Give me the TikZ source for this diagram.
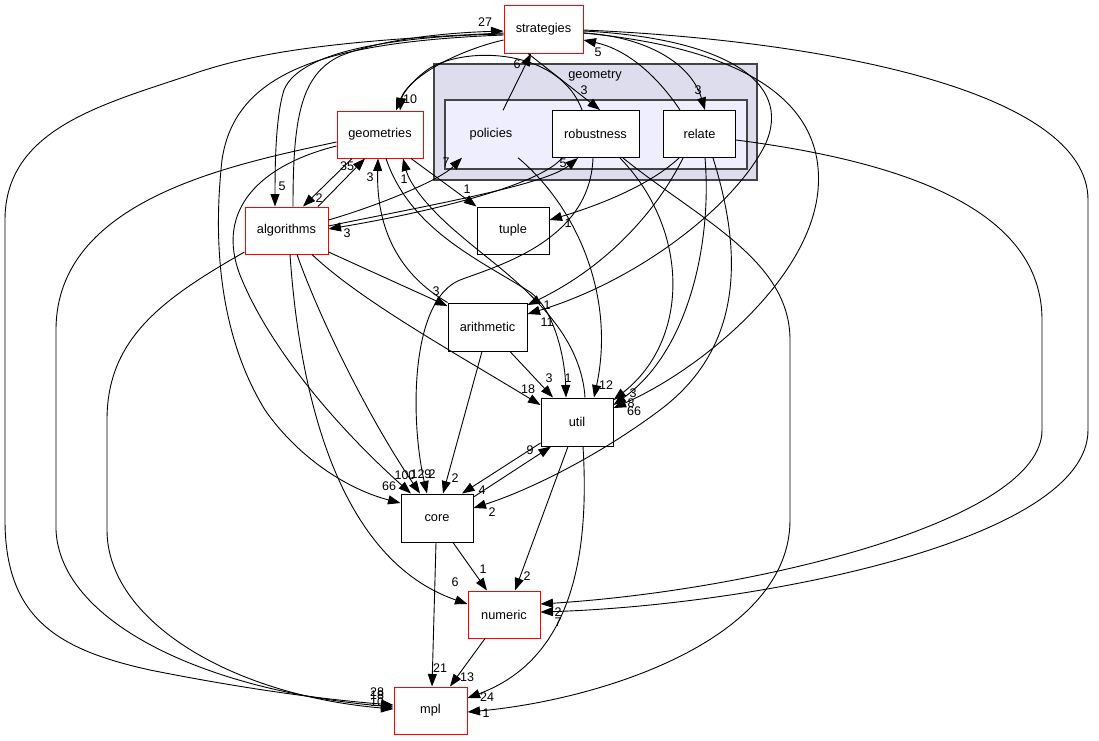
\documentclass[tikz,border=0pt]{standalone}
\usepackage{fontspec}
\setmainfont{Liberation Sans}
\usetikzlibrary{arrows.meta}
\definecolor{clout}{RGB}{221,221,238}
\definecolor{clin}{RGB}{238,238,255}
\definecolor{clborder}{RGB}{68,68,68}
\begin{document}
\begin{tikzpicture}[x=1pt,y=-1pt,
  txt/.style={font=\fontsize{12.8}{15}\selectfont},
  bbox/.style={txt, draw=black, fill=white, line width=1.0pt, inner sep=0pt},
  rbox/.style={bbox, draw=red},
  wbox/.style={txt, inner sep=0pt},
  cluster/.style={draw=clborder, line width=1.4pt},
  edge/.style={line width=0.9pt, -{Triangle[length=12.5pt,width=9pt]}},
  lbl/.style={font=\fontsize{12.5}{14}\selectfont, inner sep=0pt}]
\useasboundingbox (0,0) rectangle (1099,740);
% clusters
\draw[cluster, fill=clout] (434,64) rectangle (757,180);
\node[txt, inner sep=0pt] (geomlbl) at (595,76) {geometry};
\draw[cluster, fill=clin] (445,100) rectangle (747,169);
% nodes
\node[rbox, minimum width=79, minimum height=48] (str) at (543.5,29) {strategies};
\node[wbox, minimum width=92, minimum height=47] (pol) at (491,134) {policies};
\node[bbox, minimum width=87, minimum height=47] (rob) at (595.5,134) {robustness};
\node[bbox, minimum width=72, minimum height=47] (rel) at (699.5,134) {relate};
\node[rbox, minimum width=86, minimum height=47] (geos) at (380,134.5) {geometries};
\node[rbox, minimum width=83, minimum height=47] (alg) at (286.5,230.5) {algorithms};
\node[bbox, minimum width=72, minimum height=47] (tup) at (513,230.5) {tuple};
\node[bbox, minimum width=79, minimum height=48] (ari) at (487.5,327) {arithmetic};
\node[bbox, minimum width=72, minimum height=48] (util) at (577,422) {util};
\node[bbox, minimum width=72, minimum height=48] (core) at (437,518) {core};
\node[rbox, minimum width=72, minimum height=47] (num) at (504,614.5) {numeric};
\node[rbox, minimum width=73, minimum height=47] (mpl) at (430.5,710.5) {mpl};
% edges
\draw[edge] (alg.north -| 293,0) .. controls (293,120) and (300,75) .. (340,56) .. controls (380,40) and (440,33) .. (str.west |- 0,31);
\draw[edge] (str.west |- 0,34) .. controls (400,36) and (300,50) .. (284,90) .. controls (276,115) and (275,160) .. (alg.north -| 275,0);
\draw[edge] (str.west |- 0,35) .. controls (330,42) and (235,70) .. (222,160) .. controls (212,250) and (222,340) .. (265,410) .. controls (300,460) and (350,490) .. (core.west |- 0,503);
\draw[edge] (str.west |- 0,33) .. controls (350,40) and (260,50) .. (190,75) .. controls (100,105) and (5,130) .. (5,220) -- (5,520) .. controls (5,620) and (60,650) .. (150,670) .. controls (250,690) and (330,700) .. (mpl.west |- 0,705);
\draw[edge] (geos.west |- 0,142) .. controls (230,165) and (56,200) .. (56,330) -- (56,530) .. controls (60,620) and (200,690) .. (mpl.west |- 0,707);
\draw[edge] (alg.west |- 0,252) .. controls (160,300) and (107,340) .. (107,420) -- (107,530) .. controls (107,620) and (230,695) .. (mpl.west |- 0,709);
\draw[edge] (geos.west |- 0,146) .. controls (260,165) and (215,210) .. (240,275) .. controls (270,350) and (340,430) .. (core.north -| 411,0);
\draw[edge] (alg.south -| 297,0) .. controls (320,320) and (370,420) .. (core.north -| 420,0);
\draw[edge] (alg.south -| 290,0) .. controls (300,400) and (340,560) .. (num.west |- 0,604);
\draw[edge] (alg.south -| 312,0) .. controls (360,300) and (450,350) .. (util.west |- 0,405);
\draw[edge] (alg.east |- 0,252) -- (ari.west |- 0,306);
\draw[edge] (alg.north -| 318,0) -- (geos.south -| 365,0);
\draw[edge] (geos.south -| 352,0) -- (alg.north -| 303,0);
\draw[edge] (alg.east |- 0,220) .. controls (380,205) and (440,180) .. (pol.south -| 462,0);
\draw[edge] (alg.east |- 0,226) .. controls (430,205) and (545,185) .. (rob.south -| 578,0);
\draw[edge] (rob.south -| 562,0) .. controls (540,185) and (430,212) .. (alg.east |- 0,229);
\draw[edge] (geos.south -| 411,0) -- (tup.north west);
\draw[edge] (util.north -| 585,0) .. controls (580,320) and (500,270) .. (460,235) .. controls (430,210) and (410,185) .. (geos.south -| 403,0);
\draw[edge] (geos.south -| 386,0) .. controls (410,230) and (480,260) .. (530,292) .. controls (555,310) and (565,360) .. (util.north -| 566,0);
\draw[edge] (ari.north west) .. controls (400,275) and (376,230) .. (geos.south -| 378,0);
\draw[edge] (rob.south -| 593,0) .. controls (590,240) and (500,265) .. (460,280) .. controls (410,300) and (410,420) .. (core.north -| 427,0);
\draw[edge] (str.west |- 0,40) .. controls (460,50) and (410,75) .. (geos.north -| 396,0);
\draw[edge] (rob.north -| 582,0) .. controls (560,50) and (470,45) .. (430,68) .. controls (412,80) and (402,95) .. (geos.north -| 400,0);
\draw[edge] (str.south -| 528,0) -- (rob.north -| 600,0);
\draw[edge] (pol.north -| 503,0) -- (str.south -| 531,0);
\draw[edge] (str.east |- 0,33) .. controls (640,36) and (690,60) .. (rel.north -| 705,0);
\draw[edge] (rel.north -| 680,0) .. controls (660,80) and (630,50) .. (str.east |- 0,40);
\draw[edge] (str.east |- 0,31) .. controls (720,38) and (795,80) .. (765,145) .. controls (735,205) and (640,280) .. (ari.east |- 0,314);
\draw[edge] (rel.south -| 683,0) .. controls (665,195) and (620,260) .. (ari.east |- 0,305);
\draw[edge] (rel.south -| 679,0) .. controls (650,185) and (600,205) .. (tup.east |- 0,220);
\draw[edge] (rel.south -| 705,0) .. controls (712,240) and (690,350) .. (util.east |- 0,405);
\draw[edge] (rel.south -| 713,0) .. controls (745,260) and (740,350) .. (660,410) .. controls (600,455) and (530,490) .. (core.east |- 0,508);
\draw[edge] (rel.east |- 0,140) .. controls (930,165) and (1042,220) .. (1042,320) -- (1042,430) .. controls (1042,520) and (760,590) .. (num.east |- 0,604);
\draw[edge] (str.east |- 0,30) .. controls (820,40) and (1088,90) .. (1088,200) -- (1088,430) .. controls (1088,540) and (760,605) .. (num.east |- 0,612);
\draw[edge] (rob.south -| 623,0) .. controls (700,220) and (790,260) .. (790,340) -- (790,520) .. controls (790,640) and (600,700) .. (mpl.east |- 0,712);
\draw[edge] (str.east |- 0,33) .. controls (760,50) and (825,110) .. (818,190) .. controls (810,280) and (700,370) .. (util.east |- 0,408);
\draw[edge] (rob.south -| 620,0) .. controls (690,230) and (690,340) .. (util.east |- 0,400);
\draw[edge] (pol.south -| 518,0) .. controls (580,210) and (615,300) .. (util.north -| 594,0);
\draw[edge] (ari.south -| 510,0) -- (util.north -| 553,0);
\draw[edge] (ari.south -| 482,0) -- (core.north -| 443,0);
\draw[edge] (util.west |- 0,443) -- (core.north -| 462,0);
\draw[edge] (core.east |- 0,497) -- (util.south -| 551,0);
\draw[edge] (util.south -| 568,0) -- (num.north -| 515,0);
\draw[edge] (util.south -| 583,0) .. controls (590,560) and (570,660) .. (mpl.east |- 0,698);
\draw[edge] (core.south -| 453,0) -- (num.north -| 487,0);
\draw[edge] (core.south -| 436,0) -- (mpl.north -| 432,0);
\draw[edge] (num.south -| 485,0) -- (mpl.north -| 450,0);
% edge labels
\node[lbl] (l1) at (485,22) {27};
\node[lbl] (l2) at (598,52) {5};
\node[lbl] (l3) at (517,64) {6};
\node[lbl] (l4) at (584,90) {3};
\node[lbl] (l5) at (698,90) {3};
\node[lbl] (l6) at (410,99) {10};
\node[lbl] (l7) at (347,166) {35};
\node[lbl] (l8) at (370,177) {3};
\node[lbl] (l9) at (404,179) {1};
\node[lbl] (l10) at (282,186) {5};
\node[lbl] (l11) at (319,198) {2};
\node[lbl] (l12) at (446,162) {7};
\node[lbl] (l13) at (563,163) {5};
\node[lbl] (l14) at (467,189) {1};
\node[lbl] (l15) at (347,233) {3};
\node[lbl] (l16) at (568,223) {1};
\node[lbl] (l17) at (436,291) {3};
\node[lbl] (l18) at (547,305) {1};
\node[lbl] (l19) at (547,322) {11};
\node[lbl] (l20) at (549,378) {3};
\node[lbl] (l21) at (568,378) {1};
\node[lbl] (l22) at (606,385) {12};
\node[lbl] (l23) at (528,389) {18};
\node[lbl] (l24) at (633,393) {3};
\node[lbl] (l25) at (631,403) {8};
\node[lbl] (l26) at (634,411) {66};
\node[lbl] (l27) at (530,450) {9};
\node[lbl] (l28) at (389,486) {66};
\node[lbl] (l29) at (405,475) {100};
\node[lbl] (l30) at (421,474) {129};
\node[lbl] (l31) at (432,474) {2};
\node[lbl] (l32) at (455,478) {2};
\node[lbl] (l33) at (482,490) {4};
\node[lbl] (l34) at (492,512) {2};
\node[lbl] (l35) at (483,569) {1};
\node[lbl] (l36) at (527,576) {2};
\node[lbl] (l37) at (455,582) {6};
\node[lbl] (l38) at (558,612) {2};
\node[lbl] (l39) at (558,622) {7};
\node[lbl] (l40) at (440,668) {21};
\node[lbl] (l41) at (467,677) {13};
\node[lbl] (l42) at (487,697) {24};
\node[lbl] (l43) at (486,713) {1};
\node[lbl] (l44) at (377,692) {28};
\node[lbl] (l45) at (377,695) {18};
\node[lbl] (l46) at (377,702) {10};
\end{tikzpicture}
\end{document}
